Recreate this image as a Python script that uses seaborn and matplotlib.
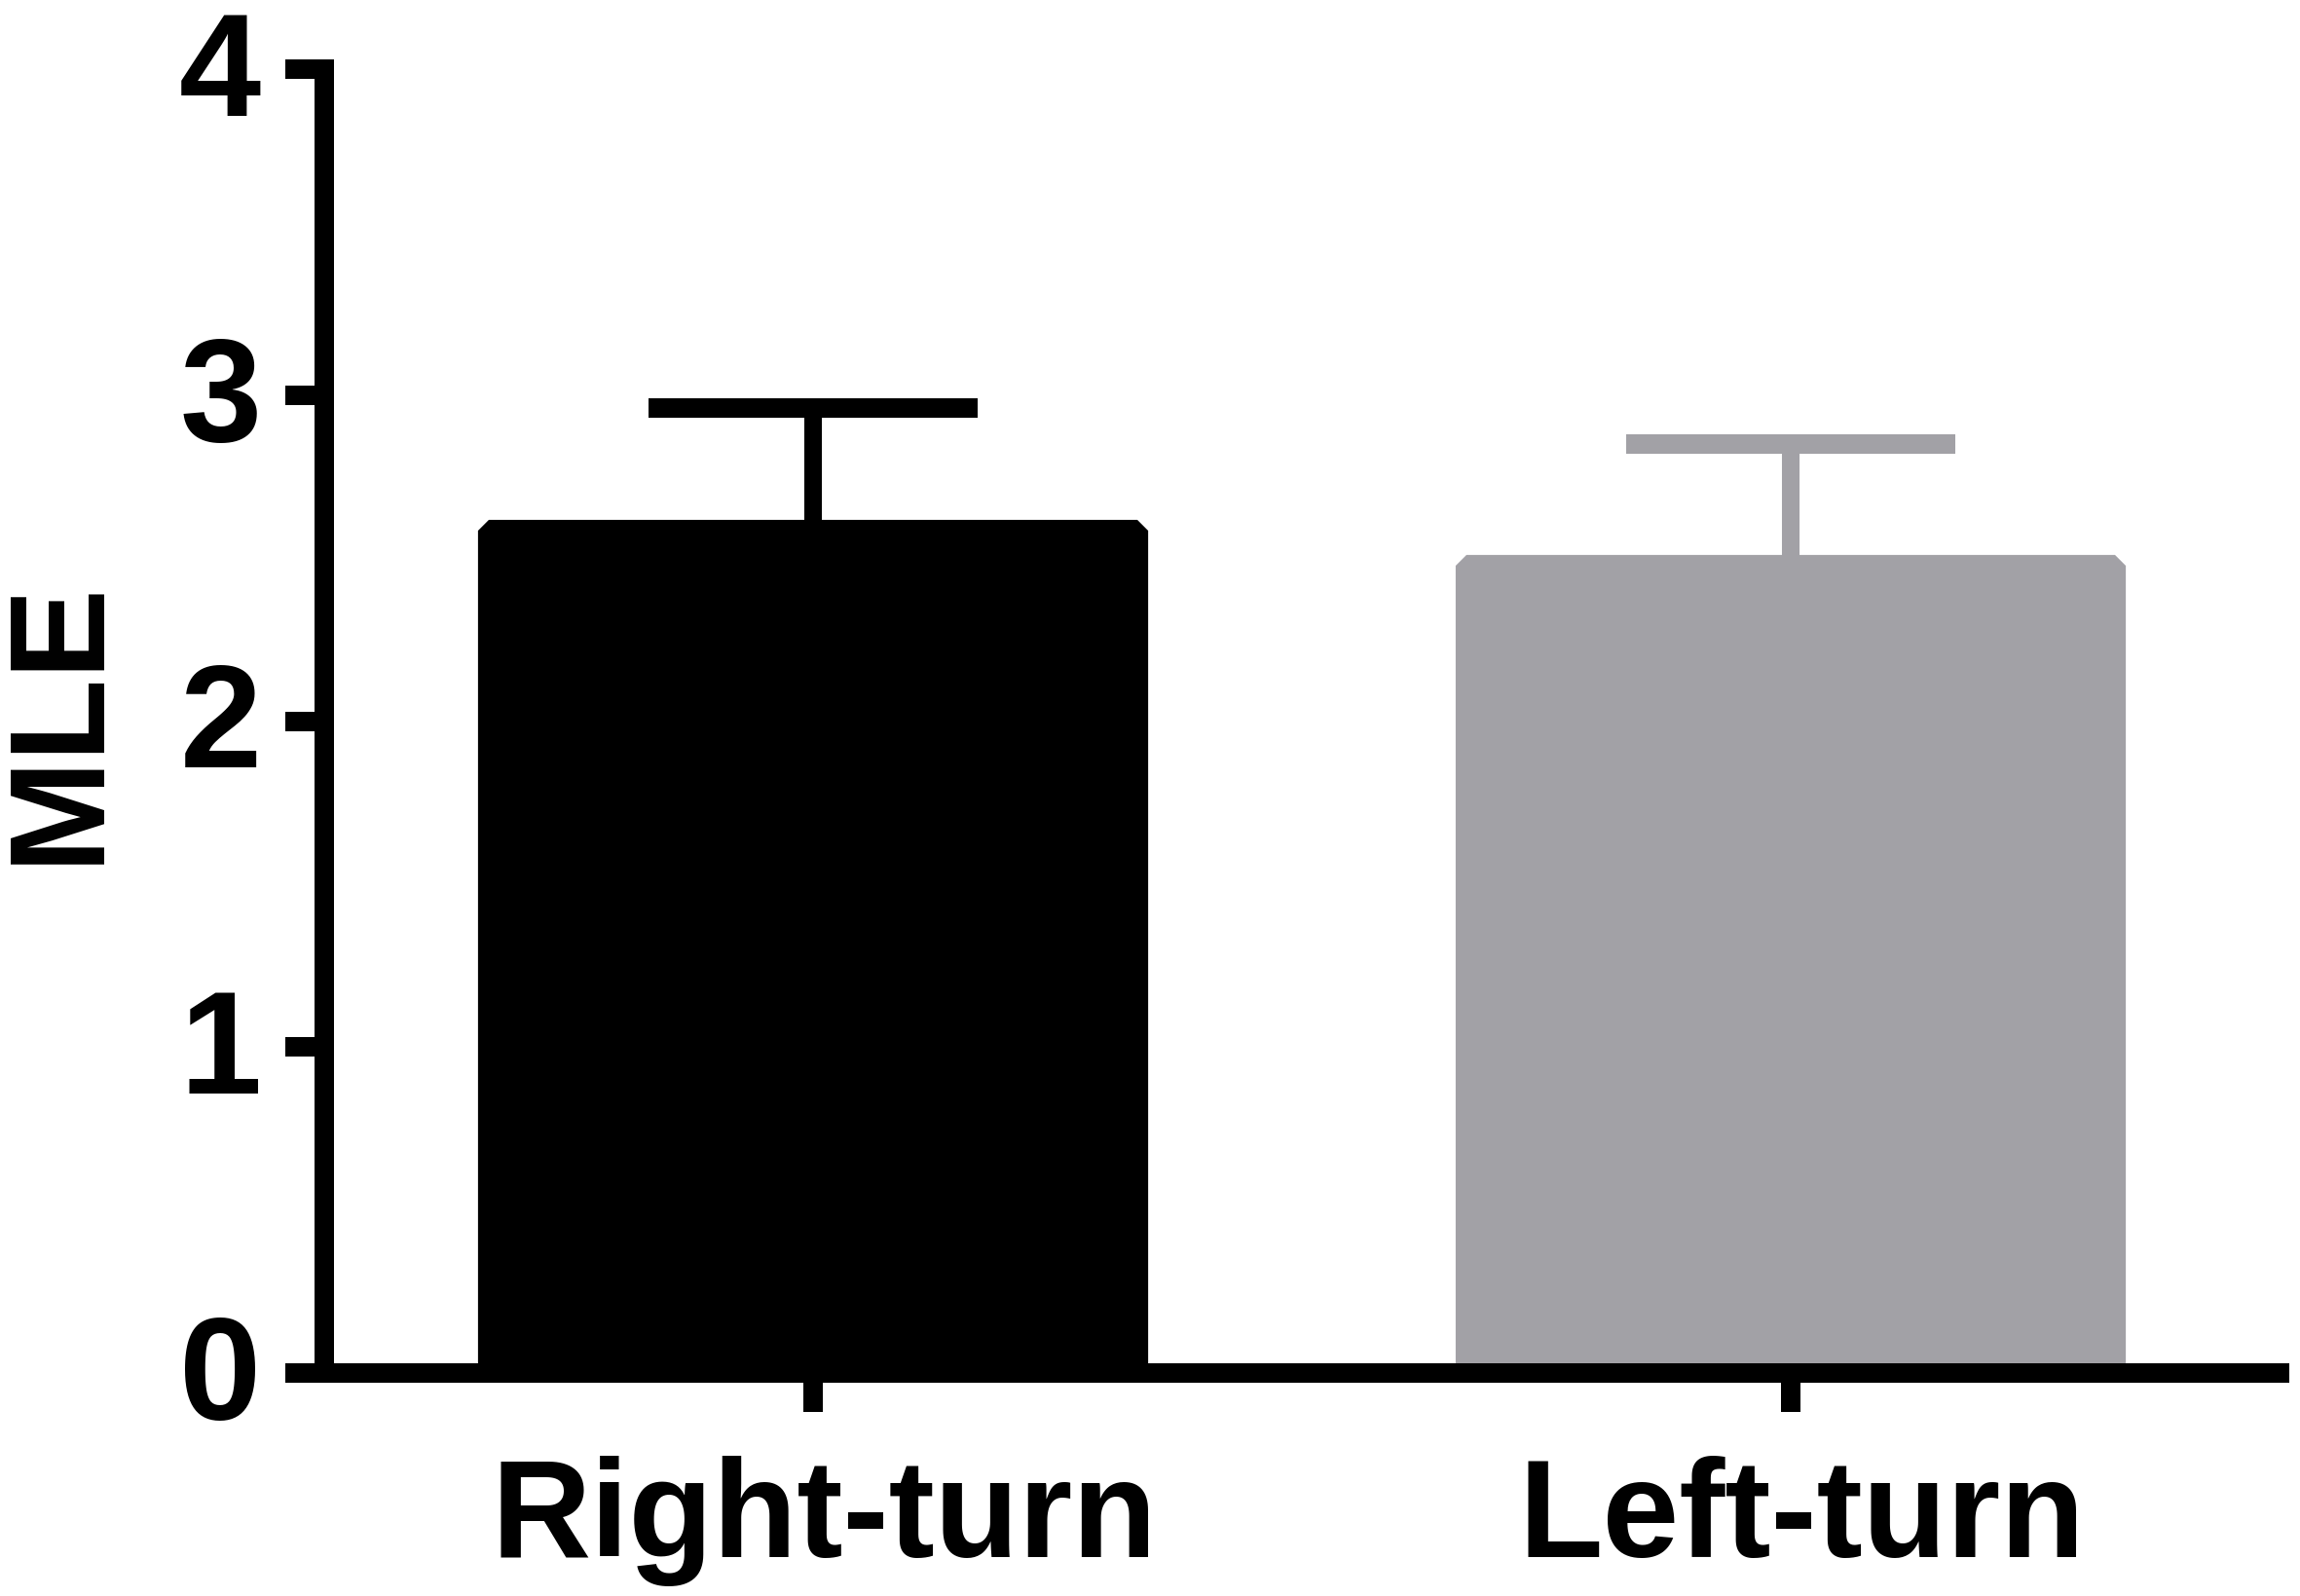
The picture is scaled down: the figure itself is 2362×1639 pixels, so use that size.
import matplotlib
matplotlib.use("Agg")
import matplotlib.pyplot as plt
from matplotlib.transforms import ScaledTranslation
import seaborn as sns
import pandas as pd

# values
conditions = ["Right-turn", "Left-turn"]
mle_mean = [2.585, 2.475]
mle_sem = [0.375, 0.375]
bar_colors = ["#000000", "#a2a1a6"]
y_ticks = [0, 1, 2, 3, 4]

df = pd.DataFrame({"Condition": conditions, "MLE": mle_mean})

sns.set_theme(style="ticks")
plt.rcParams["font.family"] = ["Liberation Sans", "DejaVu Sans"]
plt.rcParams["font.weight"] = "bold"
plt.rcParams["text.color"] = "black"
plt.rcParams["axes.labelcolor"] = "black"
plt.rcParams["xtick.color"] = "black"
plt.rcParams["ytick.color"] = "black"

fig = plt.figure(figsize=(23.62, 16.39), dpi=100)
ax = fig.add_axes([0.1410, 0.1397, 0.8501, 0.8170])

sns.barplot(data=df, x="Condition", y="MLE", hue="Condition", palette=bar_colors,
            saturation=1, legend=False, width=0.664, errorbar=None, ax=ax)

# thick same-colour border with bevelled corners, like the Prism bars
for patch, c in zip(ax.patches, bar_colors):
    patch.set_edgecolor(c)
    patch.set_linewidth(16)
    patch.set_joinstyle("bevel")

# upper-only error bars (SEM)
for i, (m, s, c) in enumerate(zip(mle_mean, mle_sem, bar_colors)):
    eb = ax.errorbar(i, m, yerr=[[0], [s]], fmt="none", ecolor=c,
                     elinewidth=13, capsize=121.5, capthick=14.4, zorder=3)
    eb[1][0].set_visible(False)

ax.set_xlim(-0.5, 1.5)
ax.set_ylim(0, 4)
ax.set_yticks(y_ticks)
ax.set_xlabel("")
ax.set_ylabel("MLE", fontsize=100, fontweight="bold", labelpad=41)

sns.despine(ax=ax)
for side in ["left", "bottom"]:
    ax.spines[side].set_linewidth(14.4)
    ax.spines[side].set_color("black")
    ax.spines[side].set_capstyle("projecting")

ax.tick_params(axis="both", length=28.5, width=14.4, color="black")
ax.tick_params(axis="y", labelsize=109, pad=18)
ax.tick_params(axis="x", labelsize=102, pad=33)

# y tick labels sit a little above their ticks, x labels a little right
yshift = ScaledTranslation(0, 5 / 72, fig.dpi_scale_trans)
for lab in ax.get_yticklabels():
    lab.set_transform(lab.get_transform() + yshift)
xshift = ScaledTranslation(8 / 72, 0, fig.dpi_scale_trans)
for lab in ax.get_xticklabels():
    lab.set_transform(lab.get_transform() + xshift)

fig.savefig("out.png", dpi=100)
